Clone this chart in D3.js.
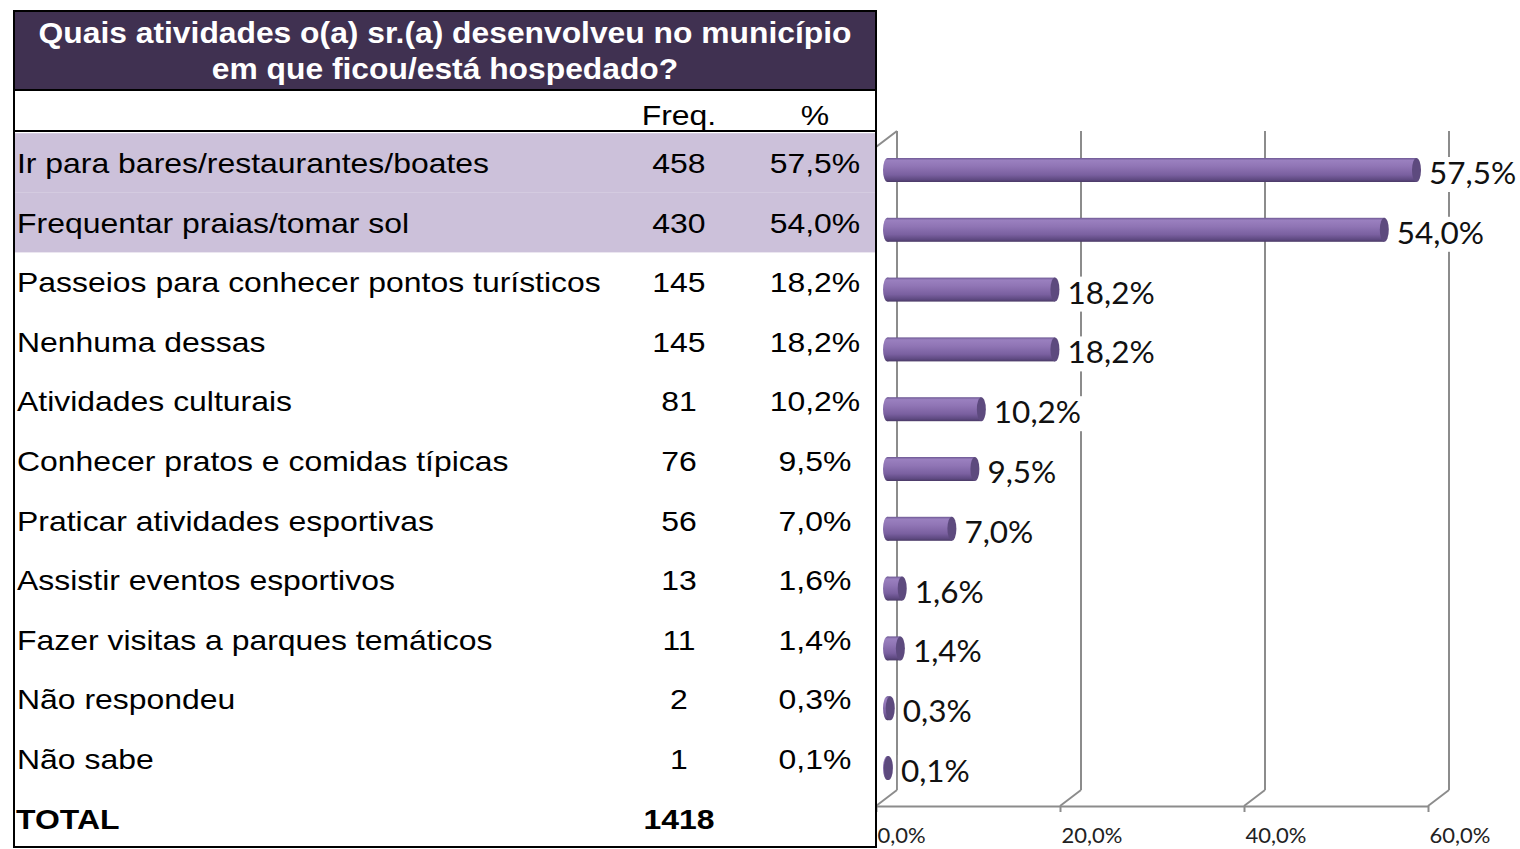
<!DOCTYPE html>
<html>
<head>
<meta charset="utf-8">
<script src="https://cdn.jsdelivr.net/npm/d3@7"></script>
<style>
  html, body { margin: 0; padding: 0; background: #fff; }
  svg { display: block; }
</style>
</head>
<body>
<div id="chart"></div>
<script>
var titleLines = ['Quais atividades o(a) sr.(a) desenvolveu no município', 'em que ficou/está hospedado?'];
var categories = [
  'Ir para bares/restaurantes/boates',
  'Frequentar praias/tomar sol',
  'Passeios para conhecer pontos turísticos',
  'Nenhuma dessas',
  'Atividades culturais',
  'Conhecer pratos e comidas típicas',
  'Praticar atividades esportivas',
  'Assistir eventos esportivos',
  'Fazer visitas a parques temáticos',
  'Não respondeu',
  'Não sabe'
];
var freq = [458, 430, 145, 145, 81, 76, 56, 13, 11, 2, 1];
var pct = [57.5, 54.0, 18.2, 18.2, 10.2, 9.5, 7.0, 1.6, 1.4, 0.3, 0.1];
var total = 1418;
var highlighted = [0, 1];
var axisTicks = [0, 20, 40, 60];

var W = 1520, H = 849;
var stretch = 1.14;
var fmt = function (v) { return d3.format('.1f')(v).replace('.', ',') + '%'; };

var svg = d3.select('#chart').append('svg')
  .attr('width', W)
  .attr('height', H);

// stretch text horizontally, the source picture is wider than normal
function widen(sel, k) {
  sel.each(function () {
    var len = this.getComputedTextLength();
    d3.select(this)
      .attr('textLength', len * (k || stretch))
      .attr('lengthAdjust', 'spacingAndGlyphs');
  });
}

// ---------- table ----------
var tLeft = 14, tRight = 876, tTop = 11, tHead = 90, tSub = 131, tBottom = 847;
var colFreq = 679, colPct = 815;
var rowY = d3.scalePoint().domain(d3.range(categories.length)).range([163, 759]);
var rowStep = rowY(1) - rowY(0);
var table = svg.append('g').style('font-family', '"Liberation Sans", Arial, sans-serif');

table.append('rect')
  .attr('x', tLeft).attr('y', tTop)
  .attr('width', tRight - tLeft).attr('height', tHead - tTop)
  .attr('fill', '#403151');

table.selectAll('rect.hl')
  .data(highlighted)
  .enter().append('rect')
  .attr('class', 'hl')
  .attr('x', tLeft).attr('y', function (d) { return rowY(d) - rowStep / 2; })
  .attr('width', tRight - tLeft).attr('height', rowStep)
  .attr('fill', '#CCC1DA');

table.selectAll('text.title')
  .data(titleLines)
  .enter().append('text')
  .attr('class', 'title')
  .attr('x', (tLeft + tRight) / 2)
  .attr('y', function (d, i) { return 43 + i * 36; })
  .attr('text-anchor', 'middle')
  .attr('fill', '#fff')
  .style('font-weight', 'bold')
  .style('font-size', '30px')
  .text(function (d) { return d; })
  .call(widen, 1.06);

table.append('text')
  .attr('x', colFreq).attr('y', 125)
  .attr('text-anchor', 'middle')
  .style('font-size', '28px')
  .text('Freq.')
  .call(widen);
table.append('text')
  .attr('x', colPct).attr('y', 125)
  .attr('text-anchor', 'middle')
  .style('font-size', '28px')
  .text('%')
  .call(widen);

var rows = table.selectAll('g.row')
  .data(categories)
  .enter().append('g')
  .attr('class', 'row')
  .attr('transform', function (d, i) { return 'translate(0,' + (rowY(i) + 10) + ')'; });
rows.append('text')
  .attr('x', 17)
  .style('font-size', '28px')
  .text(function (d) { return d; })
  .call(widen);
rows.append('text')
  .attr('x', colFreq)
  .attr('text-anchor', 'middle')
  .style('font-size', '28px')
  .text(function (d, i) { return freq[i]; })
  .call(widen);
rows.append('text')
  .attr('x', colPct)
  .attr('text-anchor', 'middle')
  .style('font-size', '28px')
  .text(function (d, i) { return fmt(pct[i]); })
  .call(widen);

var totalY = rowY(categories.length - 1) + rowStep + 10;
table.append('text')
  .attr('x', 16).attr('y', totalY)
  .style('font-size', '28px').style('font-weight', 'bold')
  .text('TOTAL')
  .call(widen);
table.append('text')
  .attr('x', colFreq).attr('y', totalY)
  .attr('text-anchor', 'middle')
  .style('font-size', '28px').style('font-weight', 'bold')
  .text(total)
  .call(widen);

// ---------- chart ----------
var x = d3.scaleLinear().domain([0, 60]).range([876, 1428]);
var depth = { dx: 21, dy: -16 };
var floorY = 806, wallTop = 131;
var barY = d3.scalePoint().domain(d3.range(categories.length)).range([170, 768]);
var barH = 24, capRx = 4.5;
var grid = '#8c8c8c';

var chart = svg.append('g');

// back wall gridlines
chart.selectAll('line.grid')
  .data(axisTicks)
  .enter().append('line')
  .attr('class', 'grid')
  .attr('x1', function (d) { return x(d) + depth.dx; })
  .attr('x2', function (d) { return x(d) + depth.dx; })
  .attr('y1', wallTop)
  .attr('y2', floorY + depth.dy)
  .attr('stroke', grid).attr('stroke-width', 2);

// floor diagonals
chart.selectAll('line.diag')
  .data(axisTicks)
  .enter().append('line')
  .attr('class', 'diag')
  .attr('x1', function (d) { return x(d); })
  .attr('x2', function (d) { return x(d) + depth.dx; })
  .attr('y1', floorY)
  .attr('y2', floorY + depth.dy)
  .attr('stroke', grid).attr('stroke-width', 2);

// left wall
chart.append('path')
  .attr('d', 'M' + x(0) + ',' + floorY + 'V' + (wallTop - depth.dy) + 'L' + (x(0) + depth.dx) + ',' + wallTop)
  .attr('fill', 'none')
  .attr('stroke', grid).attr('stroke-width', 2);

// axis
var axis = chart.append('g')
  .attr('transform', 'translate(0,' + floorY + ')')
  .call(d3.axisBottom(x).tickValues(axisTicks).tickSize(6).tickSizeOuter(0).tickFormat(fmt));
axis.attr('font-size', null).attr('font-family', null);
axis.select('.domain').attr('stroke', grid).attr('stroke-width', 2);
axis.selectAll('.tick line').attr('stroke', grid).attr('stroke-width', 2);
axis.selectAll('.tick text')
  .attr('text-anchor', 'start')
  .attr('x', 1)
  .attr('y', 37).attr('dy', null)
  .attr('fill', '#222')
  .style('font-family', 'Lato, "Open Sans", sans-serif')
  .style('font-size', '22px');

// cylinder gradient
var defs = svg.append('defs');
var grad = defs.append('linearGradient')
  .attr('id', 'cyl')
  .attr('x1', 0).attr('y1', 0).attr('x2', 0).attr('y2', 1);
[['0%', '#6d5893'], ['10%', '#9a80bf'], ['35%', '#9075b5'], ['70%', '#7a60a0'], ['90%', '#5f4a82'], ['100%', '#4a3a66']]
  .forEach(function (s) {
    grad.append('stop').attr('offset', s[0]).attr('stop-color', s[1]);
  });

var bx0 = x(0) + depth.dx / 2 + 1;
var xb = function (v) { return bx0 + (x(v) - x(0)); };

var bars = chart.selectAll('g.bar')
  .data(pct)
  .enter().append('g')
  .attr('class', 'bar')
  .attr('transform', function (d, i) { return 'translate(0,' + barY(i) + ')'; });

bars.append('ellipse')
  .attr('cx', bx0).attr('cy', 0)
  .attr('rx', capRx).attr('ry', barH / 2)
  .attr('fill', 'url(#cyl)');
bars.append('rect')
  .attr('x', bx0).attr('y', -barH / 2)
  .attr('width', function (d) { return xb(d) - bx0; })
  .attr('height', barH)
  .attr('fill', 'url(#cyl)');
bars.append('ellipse')
  .attr('cx', function (d) { return xb(d); }).attr('cy', 0)
  .attr('rx', capRx).attr('ry', barH / 2)
  .attr('fill', '#5d4a7e');

// data labels with white box
var labels = bars.append('g')
  .attr('transform', function (d) { return 'translate(' + (xb(d) + capRx + 5) + ',14)'; });
labels.append('text')
  .attr('x', 3)
  .attr('fill', '#111')
  .style('font-family', 'Lato, "Open Sans", sans-serif')
  .style('font-size', '30px')
  .text(function (d) { return fmt(d); })
  .call(widen, 1.05);
labels.insert('rect', 'text')
  .attr('x', 0).attr('y', -27)
  .attr('width', function () { return this.parentNode.querySelector('text').getBBox().width + 6; })
  .attr('height', 35)
  .attr('fill', '#fff');

// table borders on top
table.raise();
var border = table.append('g').attr('stroke', '#000').attr('fill', 'none');
border.append('rect')
  .attr('x', tLeft).attr('y', tTop)
  .attr('width', tRight - tLeft).attr('height', tHead - tTop)
  .attr('stroke-width', 2);
border.append('path')
  .attr('d', 'M' + tLeft + ',' + tHead + 'V' + tBottom + 'H' + tRight + 'V' + tTop)
  .attr('stroke-width', 2);
border.append('line')
  .attr('x1', tLeft).attr('x2', tRight)
  .attr('y1', tSub).attr('y2', tSub)
  .attr('stroke-width', 2);
</script>
</body>
</html>
